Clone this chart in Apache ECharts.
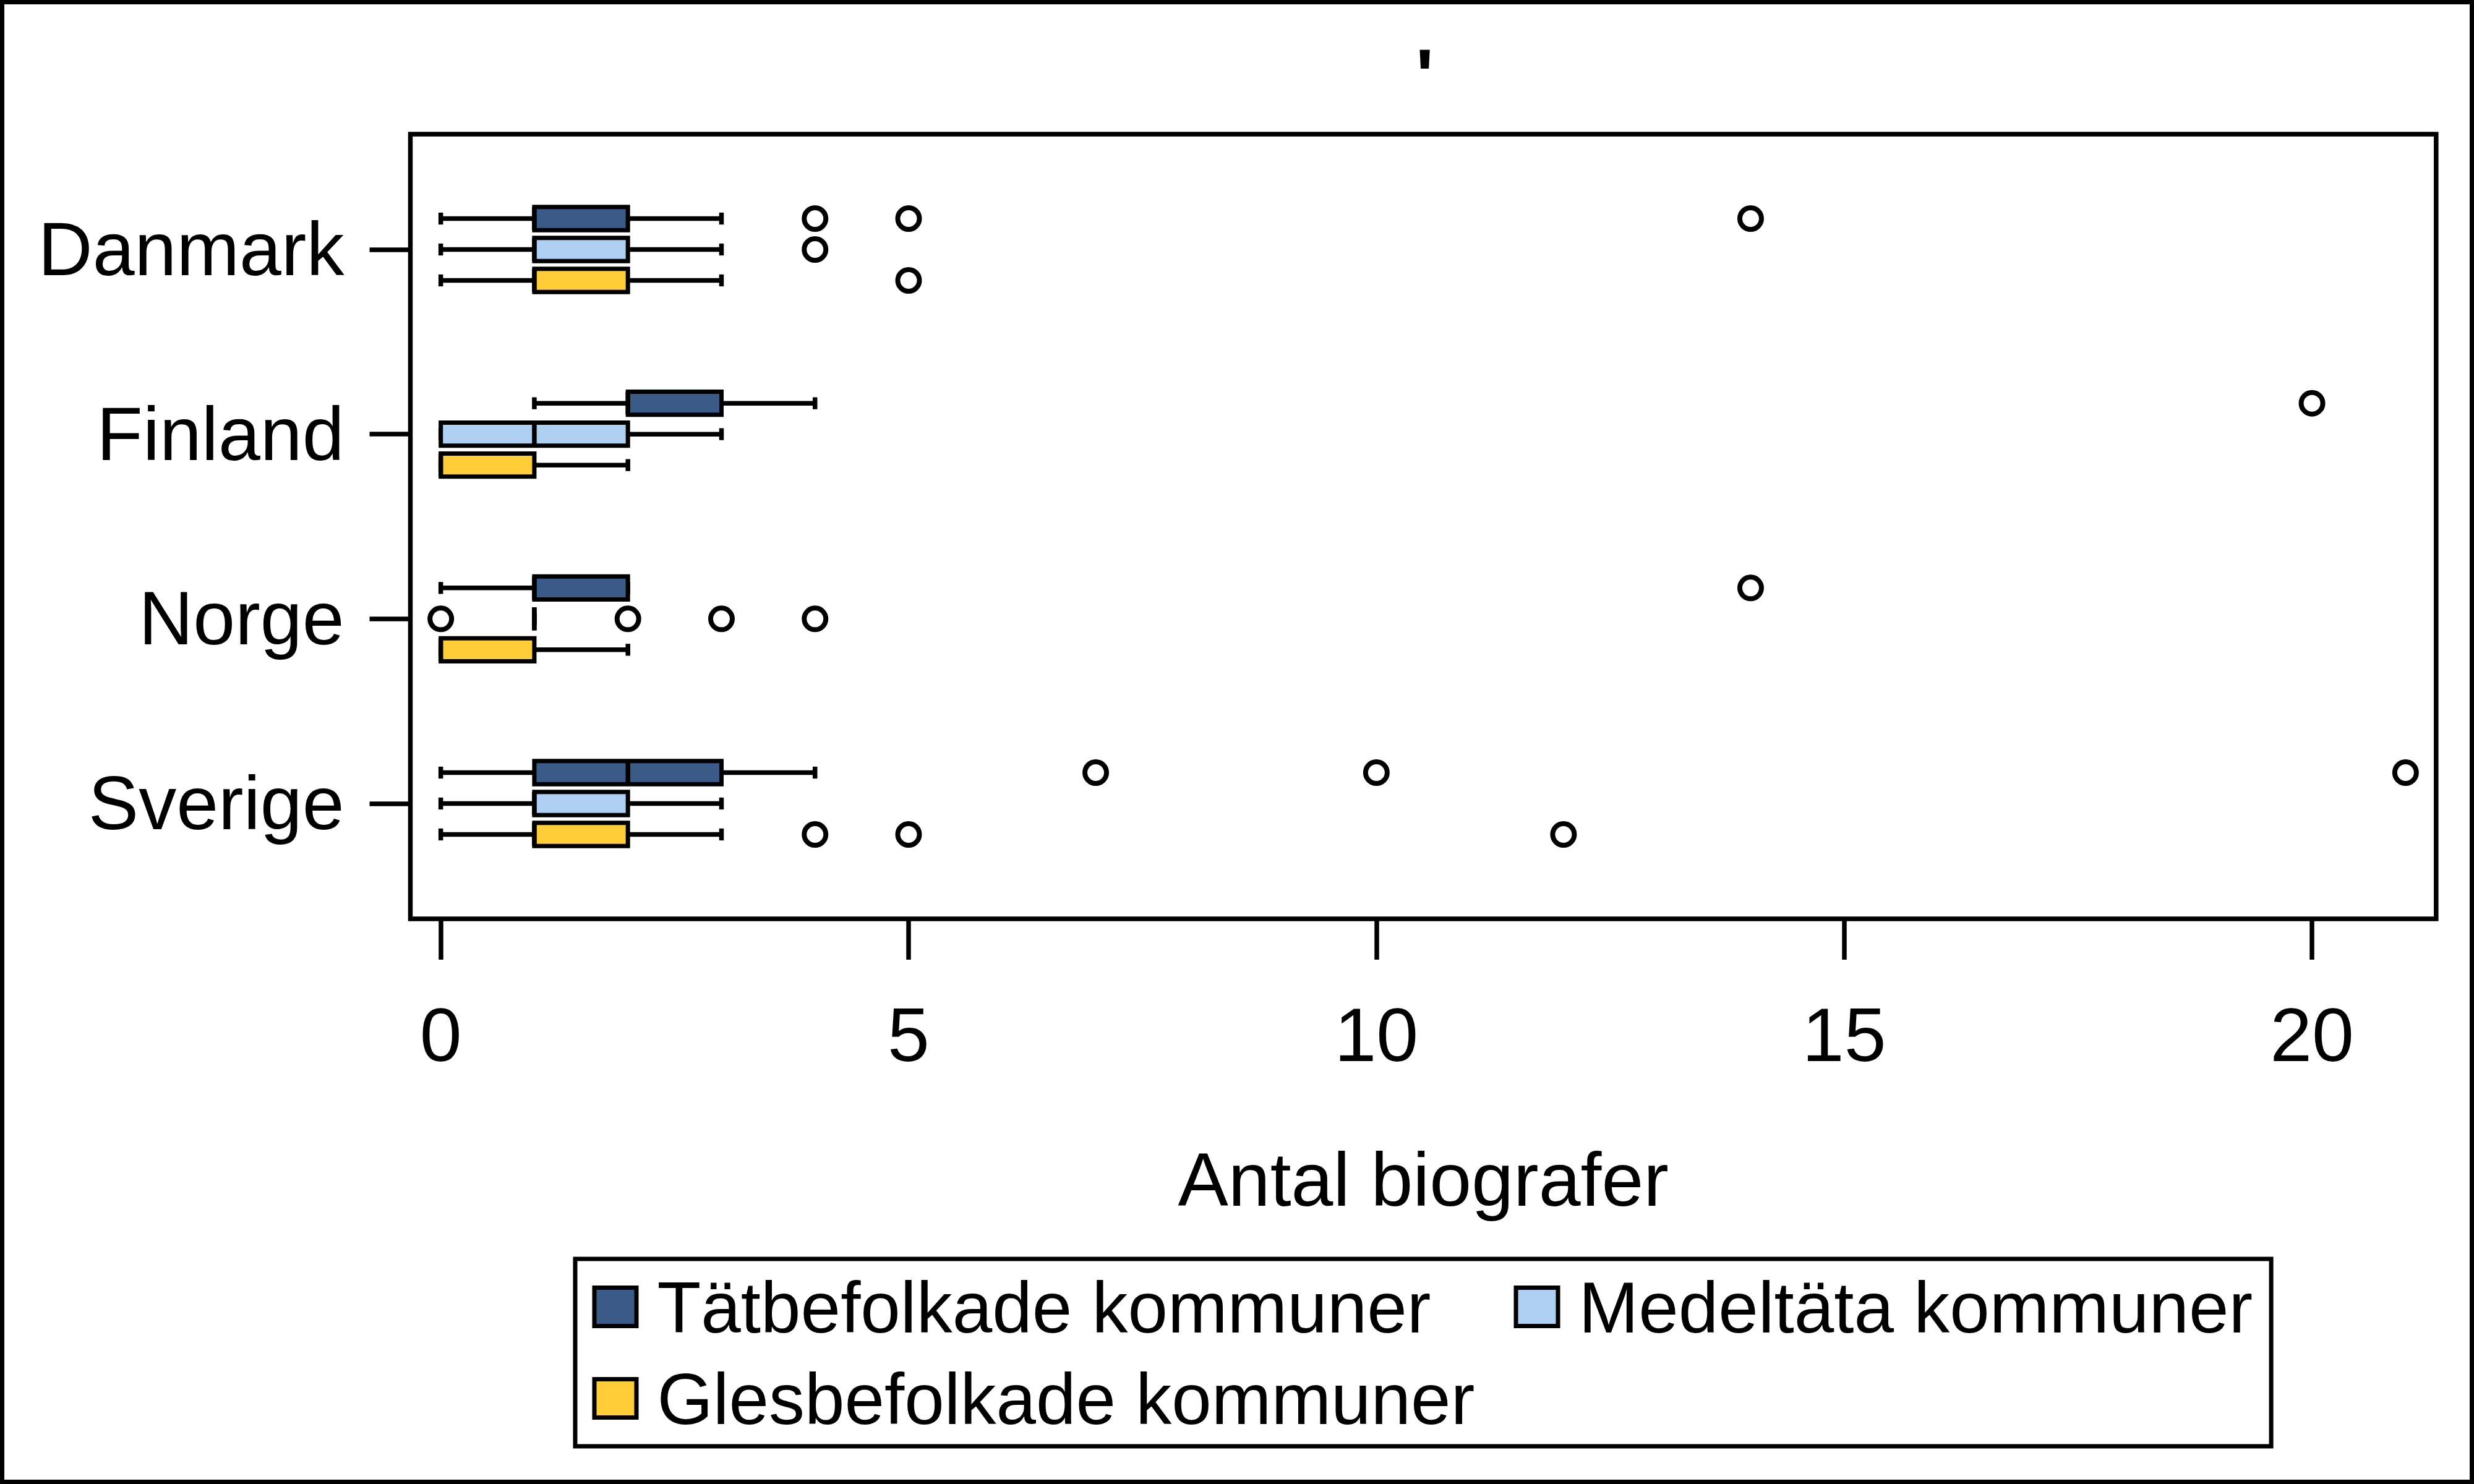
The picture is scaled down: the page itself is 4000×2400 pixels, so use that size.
<!DOCTYPE html>
<html>
<head>
<meta charset="utf-8">
<script src="https://cdn.jsdelivr.net/npm/echarts@6/dist/echarts.min.js"></script>
<style>
  html, body { margin: 0; padding: 0; background: #fff; }
  #chart { width: 4000px; height: 2400px; }
</style>
</head>
<body>
<div id="chart"></div>
<script>
// kategorier och grupper
var categories = ['Danmark', 'Finland', 'Norge', 'Sverige']
var groupNames = ['Tätbefolkade kommuner', 'Medeltäta kommuner', 'Glesbefolkade kommuner']
var groupColors = ['#3a5a88', '#aecff2', '#fecd38']
var xTicks = [0, 5, 10, 15, 20]
var yTicks = [0, 1, 2, 3]

// [min, q1, median, q3, max] per land
var tatBox = [[0, 1, 1, 2, 3], [1, 2, 2, 3, 4], [0, 1, 1, 2, 2], [0, 1, 2, 3, 4]]
var medelBox = [[0, 1, 1, 2, 3], [0, 0, 1, 2, 3], [1, 1, 1, 1, 1], [0, 1, 1, 2, 3]]
var glesBox = [[0, 1, 1, 2, 3], [0, 0, 0, 1, 2], [0, 0, 0, 1, 2], [0, 1, 1, 2, 3]]

// extremvärden [land, värde]
var tatOut = [['Danmark', 4], ['Danmark', 5], ['Danmark', 14], ['Finland', 20], ['Norge', 14], ['Sverige', 7], ['Sverige', 10], ['Sverige', 21]]
var medelOut = [['Danmark', 4], ['Norge', 0], ['Norge', 2], ['Norge', 3], ['Norge', 4]]
var glesOut = [['Danmark', 5], ['Sverige', 4], ['Sverige', 5], ['Sverige', 12]]

var FONT = 'Liberation Sans, Arial, Helvetica, sans-serif'
var BOX_H = 0.1249
var CAP_H = 0.0646
var OFFSETS = [-0.1674, 0, 0.1674]

function boxRenderer (offset) {
  return function (params, api) {
    var cat = api.value(0)
    var unit = api.size([0, 1])[1]
    var y = api.coord([0, cat])[1] + unit * offset
    var half = unit * BOX_H / 2
    var capHalf = unit * CAP_H / 2
    var px = function (v) { return api.coord([v, cat])[0] }
    var lo = px(api.value(1))
    var q1 = px(api.value(2))
    var med = px(api.value(3))
    var q3 = px(api.value(4))
    var hi = px(api.value(5))
    var line = function (x1, y1, x2, y2) {
      return { type: 'line', shape: { x1: x1, y1: y1, x2: x2, y2: y2 }, style: { stroke: '#000', lineWidth: 7.5 } }
    }
    return {
      type: 'group',
      children: [
        line(lo, y, q1, y),
        line(q3, y, hi, y),
        line(lo, y - capHalf, lo, y + capHalf),
        line(hi, y - capHalf, hi, y + capHalf),
        {
          type: 'rect',
          shape: { x: q1, y: y - half, width: q3 - q1, height: half * 2 },
          style: { fill: api.visual('color'), stroke: '#000', lineWidth: 7 }
        },
        line(med, y - half, med, y + half)
      ]
    }
  }
}

function outlierRenderer (offset) {
  return function (params, api) {
    var cat = api.value(0)
    var unit = api.size([0, 1])[1]
    var p = api.coord([api.value(1), cat])
    return {
      type: 'circle',
      shape: { cx: p[0], cy: p[1] + unit * offset, r: 17.5 },
      style: { fill: 'none', stroke: '#000', lineWidth: 8 }
    }
  }
}

var boxes = [tatBox, medelBox, glesBox]
var outliers = [tatOut, medelOut, glesOut]
var series = []
groupNames.forEach(function (name, i) {
  series.push({
    name: name,
    type: 'custom',
    itemStyle: { color: groupColors[i] },
    encode: { x: [1, 2, 3, 4, 5], y: 0 },
    renderItem: boxRenderer(OFFSETS[i]),
    data: boxes[i].map(function (b, c) { return [c].concat(b) })
  })
  series.push({
    name: name,
    type: 'custom',
    itemStyle: { color: groupColors[i] },
    encode: { x: 1, y: 0 },
    renderItem: outlierRenderer(OFFSETS[i]),
    data: outliers[i].map(function (o) { return [categories.indexOf(o[0]), o[1]] })
  })
})

var chart = echarts.init(document.getElementById('chart'))
chart.setOption({
  animation: false,
  backgroundColor: '#fff',
  title: {
    text: "'",
    left: 2289,
    top: 70,
    padding: 0,
    textStyle: { fontFamily: FONT, fontSize: 122, fontWeight: 'bold', color: '#000' }
  },
  graphic: [{
    type: 'rect',
    shape: { x: 3.5, y: 3.5, width: 3993, height: 2393 },
    style: { fill: null, stroke: '#000', lineWidth: 7 },
    silent: true
  }],
  legend: {
    left: 930,
    top: 2036,
    orient: 'horizontal',
    selectedMode: false,
    padding: [17.5, 30, 9.5, 27.5],
    borderColor: '#000',
    borderWidth: 7,
    itemWidth: 68,
    itemHeight: 62,
    itemGap: 20,
    icon: 'rect',
    itemStyle: { borderColor: '#000', borderWidth: 7 },
    formatter: function (name) {
      return name === groupNames[0] ? '{w|' + name + '}' : name
    },
    textStyle: {
      fontFamily: FONT,
      fontSize: 116,
      lineHeight: 100,
      color: '#000',
      padding: [20, 0, 0, 28.5],
      rich: { w: { width: 1365, fontFamily: FONT, fontSize: 116, lineHeight: 100, color: '#000' } }
    },
    data: [
      { name: groupNames[0], itemStyle: { color: groupColors[0] } },
      { name: groupNames[1], itemStyle: { color: groupColors[1] } },
      '',
      { name: groupNames[2], itemStyle: { color: groupColors[2] } }
    ]
  },
  grid: {
    left: 663.5,
    top: 217,
    width: 3275.3,
    height: 1269,
    show: true,
    borderColor: '#000',
    borderWidth: 7.5,
    backgroundColor: 'transparent'
  },
  xAxis: {
    type: 'value',
    min: -0.325,
    max: 21.327,
    name: 'Antal biografer',
    nameLocation: 'middle',
    nameGap: 369,
    nameTextStyle: { fontFamily: FONT, fontSize: 122, color: '#000' },
    axisLine: { show: false, onZero: false },
    axisTick: { show: true, customValues: xTicks, length: 66, lineStyle: { color: '#000', width: 7.5 } },
    axisLabel: { customValues: xTicks, margin: 135, fontFamily: FONT, fontSize: 122, color: '#000' },
    splitLine: { show: false }
  },
  yAxis: {
    type: 'value',
    inverse: true,
    min: -0.6244,
    max: 3.6244,
    axisLine: { show: false, onZero: false },
    axisTick: { show: true, customValues: yTicks, length: 66, lineStyle: { color: '#000', width: 7.5 } },
    axisLabel: {
      customValues: yTicks,
      formatter: function (v) { return '{c|' + categories[Math.round(v)] + '}' },
      margin: 107,
      rich: { c: { fontFamily: FONT, fontSize: 122, color: '#000', padding: [16, 0, 0, 0] } }
    },
    splitLine: { show: false }
  },
  series: series
})
</script>
</body>
</html>
